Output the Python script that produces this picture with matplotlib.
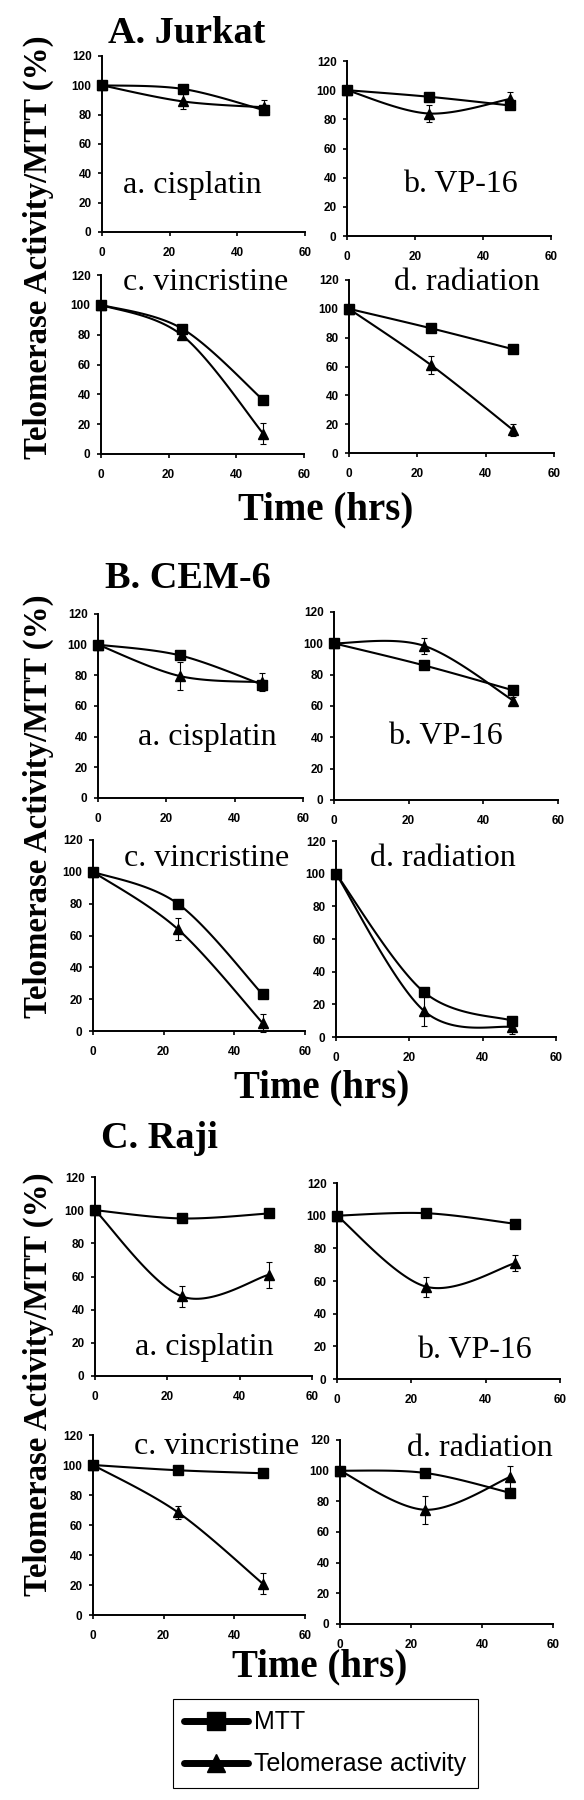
import numpy as np
import matplotlib.pyplot as plt
from matplotlib.lines import Line2D

# ---- data ----
hours = [0, 24, 48]
drugs = ["a. cisplatin", "b. VP-16", "c. vincristine", "d. radiation"]
cell_lines = ["A. Jurkat", "B. CEM-6", "C. Raji"]

jurkat_mtt = [[100, 97.5, 83], [100, 95.5, 89.5], [100, 84, 36], [100, 86.5, 72]]
jurkat_telo = [[100, 89, 85], [100, 84, 94], [100, 79.5, 13.5], [100, 61, 16]]
jurkat_err = [[0, 5, 5], [0, 6, 5], [0, 2, 7], [0, 6, 4]]

cem_mtt = [[100, 93, 74], [100, 86, 70], [100, 80, 23], [100, 27.5, 10]]
cem_telo = [[100, 79.5, 75.5], [100, 98.5, 63.5], [100, 64, 5], [100, 16, 6]]
cem_err = [[0, 9, 6], [0, 5, 2], [0, 7, 5.5], [0, 9, 4]]

raji_mtt = [[100, 95, 98], [100, 101.5, 95], [100, 96.5, 94.5], [100, 98.5, 85.5]]
raji_telo = [[100, 48, 61], [100, 56.5, 71], [100, 68.5, 21], [100, 74.5, 96]]
raji_err = [[0, 6.5, 8], [0, 6, 5], [0, 4.5, 7], [0, 9, 7]]

series_labels = ["MTT", "Telomerase activity"]

W, H = 584, 1800
SERIF = "Liberation Serif"
SANS = "Liberation Sans"


def rect(x0, y0, x1, y1):
    """pixel box (top-left origin) -> figure fraction rect"""
    return [x0 / W, 1 - y1 / H, (x1 - x0) / W, (y1 - y0) / H]


def smooth(x, y, n=40):
    """Excel-like smoothed line (Catmull-Rom as cubic Bezier)."""
    p = np.column_stack([x, y]).astype(float)
    ext = np.vstack([p[0], p, p[-1]])
    xs, ys = [], []
    t = np.linspace(0, 1, n)
    for i in range(len(p) - 1):
        p0, p1 = ext[i + 1], ext[i + 2]
        c1 = p0 + (ext[i + 2] - ext[i]) / 6.0
        c2 = p1 - (ext[i + 3] - ext[i + 1]) / 6.0
        seg = ((1 - t) ** 3)[:, None] * p0 + (3 * (1 - t) ** 2 * t)[:, None] * c1 \
            + (3 * (1 - t) * t ** 2)[:, None] * c2 + (t ** 3)[:, None] * p1
        xs.extend(seg[:, 0])
        ys.extend(seg[:, 1])
    return np.array(xs), np.array(ys)


# panel boxes in pixels, order a, b, c, d
boxes = {
    "A. Jurkat": [(102, 56, 305, 232), (347, 61, 551, 236),
                  (101, 275, 304, 454), (349, 280, 554, 453)],
    "B. CEM-6": [(98, 614, 303, 798), (334, 612, 558, 800),
                 (93, 840, 305, 1031), (336, 841, 556, 1037)],
    "C. Raji": [(95, 1177, 312, 1376), (337, 1183, 560, 1379),
                (93, 1435, 305, 1615), (340, 1440, 553, 1624)],
}
# drug label centers
label_pos = {
    "A. Jurkat": [(192, 185), (460, 185), (206, 282), (467, 282)],
    "B. CEM-6": [(207, 737), (445, 737), (207, 858), (443, 858)],
    "C. Raji": [(204, 1348), (474, 1350), (217, 1447), (480, 1448)],
}
title_pos = {"A. Jurkat": (108, 43), "B. CEM-6": (105, 588), "C. Raji": (101, 1148)}
time_pos = {"A. Jurkat": (326, 510), "B. CEM-6": (322, 1088), "C. Raji": (320, 1667)}
ylab_pos = {"A. Jurkat": (38, 247), "B. CEM-6": (38, 806), "C. Raji": (38, 1384)}

groups = [
    ("A. Jurkat", jurkat_mtt, jurkat_telo, jurkat_err),
    ("B. CEM-6", cem_mtt, cem_telo, cem_err),
    ("C. Raji", raji_mtt, raji_telo, raji_err),
]

fig = plt.figure(figsize=(W / 100, H / 100), dpi=100)
fig.patch.set_facecolor("white")

for name, mtt, telo, err in groups:
    for k in range(4):
        ax = fig.add_axes(rect(*boxes[name][k]))
        for sp in ("top", "right"):
            ax.spines[sp].set_visible(False)
        for sp in ("left", "bottom"):
            ax.spines[sp].set_linewidth(1.4)
        ax.set_xlim(0, 60)
        ax.set_ylim(0, 120)
        ax.set_xticks([0, 20, 40, 60])
        ax.set_yticks([0, 20, 40, 60, 80, 100, 120])
        ax.tick_params(axis="x", direction="out", length=3, width=1.2, pad=8)
        ax.tick_params(axis="y", direction="out", length=3, width=1.2, pad=4.5)
        for lab in ax.get_xticklabels() + ax.get_yticklabels():
            lab.set_fontfamily(SANS)
            lab.set_fontweight("bold")
            lab.set_fontsize(8.5)

        sx, sy = smooth(hours, mtt[k])
        ax.plot(sx, sy, color="black", lw=1.5, clip_on=False)
        ax.plot(hours, mtt[k], ls="none", marker="s", ms=7.5, color="black", clip_on=False, zorder=4)

        tx, ty = smooth(hours, telo[k])
        ax.plot(tx, ty, color="black", lw=1.5, clip_on=False)
        ax.plot(hours, telo[k], ls="none", marker="^", ms=7, color="black", clip_on=False, zorder=4)
        ax.errorbar(hours[1:], telo[k][1:], yerr=err[k][1:], fmt="none", ecolor="black",
                    elinewidth=0.8, capsize=2.5, capthick=0.8, clip_on=False)

        cx, cy = label_pos[name][k]
        fig.text(cx / W, 1 - cy / H, drugs[k], ha="center", va="center",
                 family=SERIF, fontsize=23)

    tx0, ty0 = title_pos[name]
    fig.text(tx0 / W, 1 - ty0 / H, name, ha="left", va="baseline",
             family=SERIF, fontweight="bold", fontsize=27.5)
    cx, cy = time_pos[name]
    fig.text(cx / W, 1 - cy / H, "Time (hrs)", ha="center", va="center",
             family=SERIF, fontweight="bold", fontsize=28)
    cx, cy = ylab_pos[name]
    fig.text(cx / W, 1 - cy / H, "Telomerase Activity/MTT (%)", ha="center", va="center",
             rotation=90, family=SERIF, fontweight="bold", fontsize=23.7)

handles = [
    Line2D([], [], color="black", lw=5, marker="s", ms=12.5, solid_capstyle="round"),
    Line2D([], [], color="black", lw=5, marker="^", ms=13.5, solid_capstyle="round"),
]
leg = fig.legend(handles, series_labels, loc="upper left",
                 bbox_to_anchor=(173 / W, 1 - 1699 / H), bbox_transform=fig.transFigure,
                 frameon=True, fancybox=False, shadow=False, edgecolor="black", framealpha=1,
                 prop={"family": SANS, "size": 18}, handlelength=2.55, handletextpad=0.25,
                 borderpad=0.45, labelspacing=0.72, borderaxespad=0, markerscale=1)
leg.get_frame().set_linewidth(0.8)

fig.savefig("out.png", dpi=100, facecolor="white")
